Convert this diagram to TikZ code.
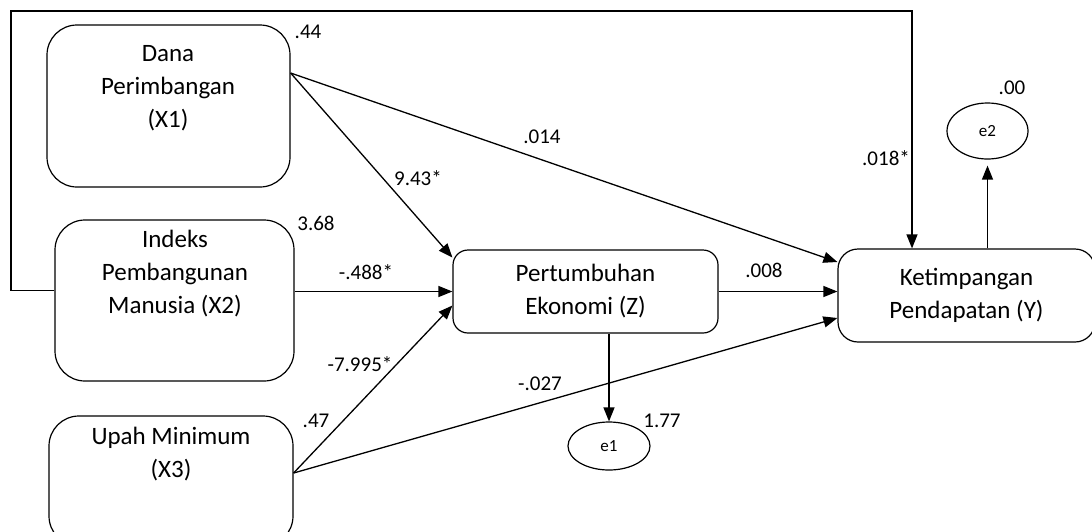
\documentclass[tikz,border=0pt]{standalone}
\usepackage{fontspec}
\setmainfont{Carlito}
\usetikzlibrary{arrows.meta, positioning, shapes.geometric}
\tikzset{
  var/.style={draw, rounded corners=#1, line width=1.2pt},
  var/.default=30pt,
  vartext/.style={align=center, font=\fontsize{25}{33}\selectfont},
  err/.style={draw, ellipse, line width=1.2pt, inner sep=0pt, font=\fontsize{17}{20}\selectfont},
  coef/.style={font=\fontsize{21}{25}\selectfont, inner sep=0pt},
}

\begin{document}
\begin{tikzpicture}[x=1pt, y=-1pt, >={Triangle[length=14pt,width=11pt]}, ->, line width=1.3pt]
    \useasboundingbox (0,0) rectangle (1092,531);
    % variables
    \node [var, minimum width=243pt, minimum height=162pt] (x1) at (168.5,106) {};
    \node [var, minimum width=239pt, minimum height=161pt] (x2) at (174.5,300.5) {};
    \node [var, minimum width=244pt, minimum height=130pt] (x3) at (171,481) {};
    \node [var=15pt, vartext, minimum width=265pt, minimum height=83pt] (z) at (585.5,291.5) {Pertumbuhan\\Ekonomi (Z)};
    \node [var=20pt, vartext, minimum width=257pt, minimum height=93pt] (y) at (966.5,295.5) {Ketimpangan\\Pendapatan (Y)};
    \node [vartext] (x1txt) at (168,88) {Dana\\Perimbangan\\(X1)};
    \node [vartext] (x2txt) at (175,274) {Indeks\\Pembangunan\\Manusia (X2)};
    \node [vartext] (x3txt) at (171,454) {Upah Minimum\\(X3)};
    % errors
    \node [err, minimum width=82pt, minimum height=48pt] (e1) at (609,446) {e1};
    \node [err, minimum width=81pt, minimum height=56pt] (e2) at (987.5,131) {e2};
    % paths
    \coordinate (lp) at (11,11);
    \draw ([yshift=10pt]x2.west) -| (lp) -| ([xshift=-54.5pt]y.north);
    \draw ([yshift=33pt]x1.east) -- ([yshift=34pt]z.west);
    \draw ([yshift=33pt]x1.east) -- ([yshift=33.5pt]y.west);
    \draw (x2.east |- z.west) -- (z.west);
    \draw ([yshift=8pt]x3.east) -- ([yshift=-14pt]z.west);
    \draw ([yshift=8pt]x3.east) -- ([yshift=-22.5pt]y.west);
    \draw (z.east) -- (z.east -| y.west);
    \draw (e1.north |- z.south) -- (e1.north);
    \draw [shorten >=6pt] (e2.south |- y.north) -- (e2.south);
    % coefficients
    \node [coef] (c1) at (308,32) {.44};
    \node [coef] (c2) at (316,223) {3.68};
    \node [coef] (c3) at (316,421) {.47};
    \node [coef] (c4) at (662,421) {1.77};
    \node [coef] (c5) at (1012,88) {.00};
    \node [coef] (c6) at (418,178) {9.43*};
    \node [coef] (c7) at (542,137) {.014};
    \node [coef] (c8) at (886,158) {.018*};
    \node [coef] (c9) at (366,272) {-.488*};
    \node [coef] (c10) at (764,270) {.008};
    \node [coef] (c11) at (360,364) {-7.995*};
    \node [coef] (c12) at (540,384) {-.027};
\end{tikzpicture}
\end{document}
